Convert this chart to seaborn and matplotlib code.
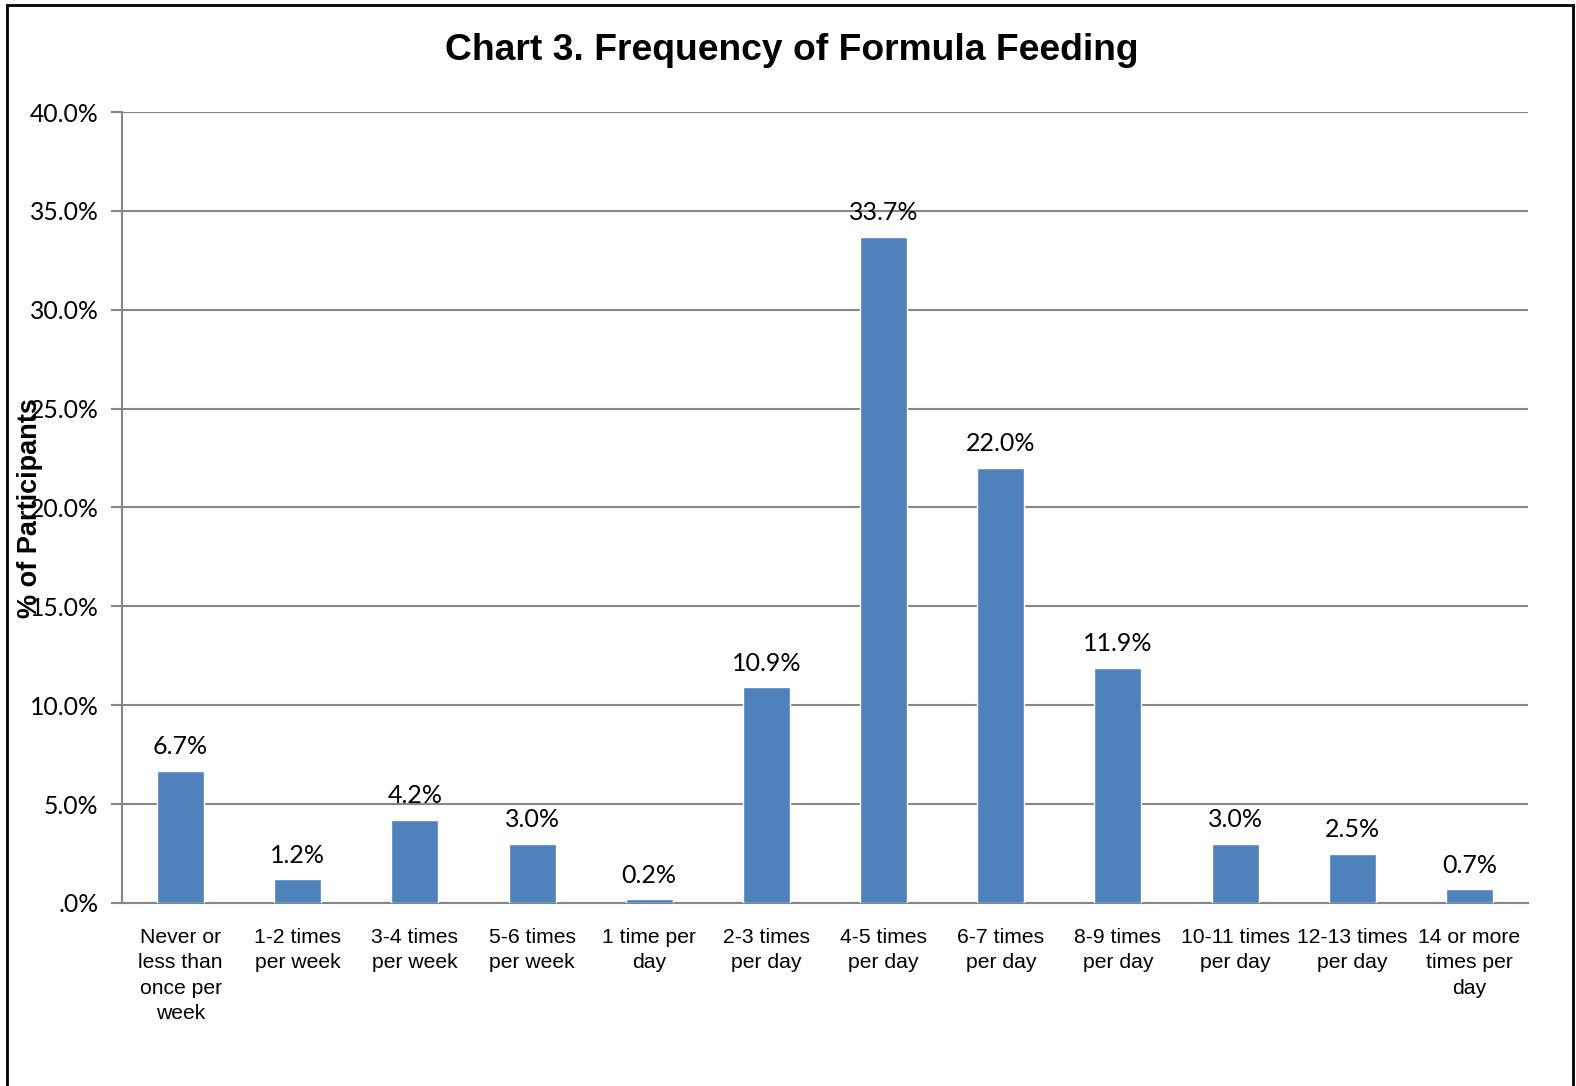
import matplotlib
matplotlib.use("Agg")
import matplotlib.pyplot as plt
from matplotlib.patches import Rectangle
from matplotlib.ticker import FixedLocator
import seaborn as sns
import pandas as pd

# Feeding frequency categories and share of participants (%)
categories = [
    "Never or\nless than\nonce per\nweek",
    "1-2 times\nper week",
    "3-4 times\nper week",
    "5-6 times\nper week",
    "1 time per\nday",
    "2-3 times\nper day",
    "4-5 times\nper day",
    "6-7 times\nper day",
    "8-9 times\nper day",
    "10-11 times\nper day",
    "12-13 times\nper day",
    "14 or more\ntimes per\nday",
]
percent = [6.7, 1.2, 4.2, 3.0, 0.2, 10.9, 33.7, 22.0, 11.9, 3.0, 2.5, 0.7]
y_ticks = [0, 5, 10, 15, 20, 25, 30, 35, 40]
y_tick_labels = [".0%", "5.0%", "10.0%", "15.0%", "20.0%", "25.0%", "30.0%", "35.0%", "40.0%"]

df = pd.DataFrame({"category": categories, "percent": percent})

sns.set_theme(style="white")
plt.rcParams["font.family"] = ["Liberation Sans", "DejaVu Sans"]
plt.rcParams["text.color"] = "black"

W, H = 1576, 1086
fig = plt.figure(figsize=(W / 100, H / 100), dpi=100)
ax = fig.add_axes([122 / W, 1 - 903 / H, (1528 - 122) / W, (903 - 112) / H])

grid_col = "#868686"
bar_col = "#4F81BD"

sns.barplot(data=df, x="category", y="percent", color=bar_col, width=0.4,
            saturation=1, ax=ax, zorder=3)

ax.set_xlim(-0.5, len(categories) - 0.5)
ax.set_ylim(0, 40)
ax.set_yticks(y_ticks)
ax.set_yticklabels(y_tick_labels, fontfamily="Lato", fontsize=17.8, color="black")
ax.yaxis.grid(True, color=grid_col, linewidth=1.5, zorder=0)
ax.set_axisbelow(True)

# Category labels centred, tick marks at category boundaries
ax.tick_params(axis="x", which="major", length=0, pad=18, labelsize=15.2, labelcolor="black")
ax.xaxis.set_minor_locator(FixedLocator([i - 0.5 for i in range(len(categories) + 1)]))
ax.tick_params(axis="x", which="minor", length=6, width=1.5, color=grid_col, direction="out")
ax.tick_params(axis="y", length=8, width=1.5, color=grid_col, direction="out", left=True, pad=9)
for lbl in ax.get_xticklabels():
    lbl.set_linespacing(1.42)
    lbl.set_va("top")

for side in ("top", "right"):
    ax.spines[side].set_visible(False)
for side in ("left", "bottom"):
    ax.spines[side].set_color(grid_col)
    ax.spines[side].set_linewidth(1.5)

ax.set_xlabel("")
ax.set_ylabel("% of Participants", fontsize=19.5, fontweight="bold", va="center", color="black")
ax.yaxis.set_label_coords((30 - 122) / (1528 - 122), (903 - 508) / (903 - 112))

ax.bar_label(ax.containers[0], labels=[f"{v:.1f}%" for v in percent], padding=9,
             fontfamily="Lato", fontsize=18, color="black")

fig.text(792 / W, 1 - 51 / H, "Chart 3. Frequency of Formula Feeding",
         ha="center", va="center", fontsize=26.8, fontweight="bold", color="black")

# Outer frame
fig.patches.append(Rectangle((7 / W, -0.05), (1573 - 7) / W, 1.05 - 5 / H,
                             transform=fig.transFigure, fill=False,
                             edgecolor="black", linewidth=2))

fig.savefig("out.png", dpi=100)
